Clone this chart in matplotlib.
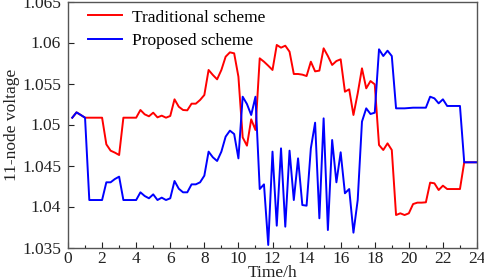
import numpy as np
import matplotlib
matplotlib.use("Agg")
import matplotlib.pyplot as plt
from matplotlib.ticker import MultipleLocator

time_h = [0.25 * (i + 1) for i in range(96)]

traditional = [
    1.05083, 1.05148, 1.05116, 1.05083, 1.05083, 1.05083, 1.05083, 1.05083,
    1.04758, 1.04681, 1.04657, 1.04628, 1.05083, 1.05083, 1.05083, 1.05083,
    1.05177, 1.05124, 1.05100, 1.05144, 1.05087, 1.05108, 1.05083, 1.05104,
    1.05307, 1.05217, 1.05177, 1.05173, 1.05254, 1.05254, 1.05299, 1.05360,
    1.05665, 1.05604, 1.05551, 1.05665, 1.05827, 1.05880, 1.05868, 1.05583,
    1.04843, 1.04742, 1.05063, 1.04933, 1.05807, 1.05766, 1.05717, 1.05665,
    1.05970, 1.05937, 1.05961, 1.05888, 1.05616, 1.05616, 1.05608, 1.05591,
    1.05766, 1.05648, 1.05657, 1.05929, 1.05835, 1.05726, 1.05774, 1.05795,
    1.05400, 1.05429, 1.05116, 1.05380, 1.05685, 1.05441, 1.05530, 1.05490,
    1.04750, 1.04689, 1.04770, 1.04689, 1.03896, 1.03917, 1.03896, 1.03917,
    1.04030, 1.04047, 1.04047, 1.04051, 1.04291, 1.04283, 1.04201, 1.04254,
    1.04213, 1.04213, 1.04213, 1.04213, 1.04539, 1.04539, 1.04539, 1.04539,
]

proposed = [
    1.05083, 1.05148, 1.05116, 1.05083, 1.04079, 1.04079, 1.04079, 1.04079,
    1.04295, 1.04295, 1.04335, 1.04364, 1.04079, 1.04079, 1.04079, 1.04079,
    1.04173, 1.04128, 1.04100, 1.04148, 1.04079, 1.04108, 1.04079, 1.04100,
    1.04311, 1.04217, 1.04173, 1.04173, 1.04270, 1.04270, 1.04295, 1.04376,
    1.04669, 1.04600, 1.04555, 1.04669, 1.04852, 1.04925, 1.04884, 1.04587,
    1.05339, 1.05250, 1.05116, 1.05339, 1.04213, 1.04270, 1.03531, 1.04669,
    1.03766, 1.04709, 1.03754, 1.04681, 1.04079, 1.04587, 1.04018, 1.04010,
    1.04709, 1.05022, 1.03856, 1.05075, 1.03713, 1.04811, 1.04295, 1.04661,
    1.04161, 1.04213, 1.03681, 1.04079, 1.05035, 1.05197, 1.05128, 1.05144,
    1.05917, 1.05835, 1.05900, 1.05835, 1.05197, 1.05197, 1.05197, 1.05201,
    1.05205, 1.05205, 1.05205, 1.05205, 1.05339, 1.05319, 1.05258, 1.05307,
    1.05226, 1.05226, 1.05226, 1.05226, 1.04539, 1.04539, 1.04539, 1.04539,
]

series_labels = ["Traditional scheme", "Proposed scheme"]
y_ticks = [1.035, 1.04, 1.045, 1.05, 1.055, 1.06, 1.065]
y_tick_labels = ["1.035", "1.04", "1.045", "1.05", "1.055", "1.06", "1.065"]
x_ticks = list(range(0, 25, 2))

plt.rcParams['font.family'] = ['Liberation Serif', 'DejaVu Serif']

fs = 12.5

fig = plt.figure(figsize=(4.84, 2.79), dpi=100)
ax = fig.add_axes([68 / 484, 1 - 247.5 / 279, 409 / 484, 246 / 279])

ax.plot(time_h, traditional, color='#ff0000', lw=1.4, label=series_labels[0])
ax.plot(time_h, proposed, color='#0000ff', lw=1.4, label=series_labels[1])

ax.set_xlim(0, 24)
ax.set_ylim(1.035, 1.065)
ax.set_xticks(x_ticks)
ax.set_xticklabels([str(v) for v in x_ticks])
ax.xaxis.set_minor_locator(MultipleLocator(1))
ax.set_yticks(y_ticks)
ax.set_yticklabels(y_tick_labels)

ax.tick_params(axis='both', which='both', direction='in', labelsize=fs,
               colors='#222222', top=False, right=False)
ax.tick_params(axis='both', which='major', length=4, width=0.8)
ax.tick_params(axis='x', which='minor', length=2.5, width=0.8)
ax.tick_params(axis='y', which='major', pad=5)
ax.tick_params(axis='x', which='major', pad=2.5)

for s in ax.spines.values():
    s.set_color('#555555')
    s.set_linewidth(1.0)

ax.set_xlabel("Time/h", fontsize=fs, color='#222222', va='top')
ax.xaxis.set_label_coords(0.5, -0.07)
ax.set_ylabel("11-node voltage", fontsize=fs, color='#222222', labelpad=1.5)

leg = ax.legend(loc='upper left', bbox_to_anchor=((88 - 68) / 409, 0.968),
                frameon=False, fontsize=fs, handlelength=1.95,
                handletextpad=0.6, labelspacing=0.42, borderpad=0,
                borderaxespad=0)

fig.savefig("out.png", dpi=100)
